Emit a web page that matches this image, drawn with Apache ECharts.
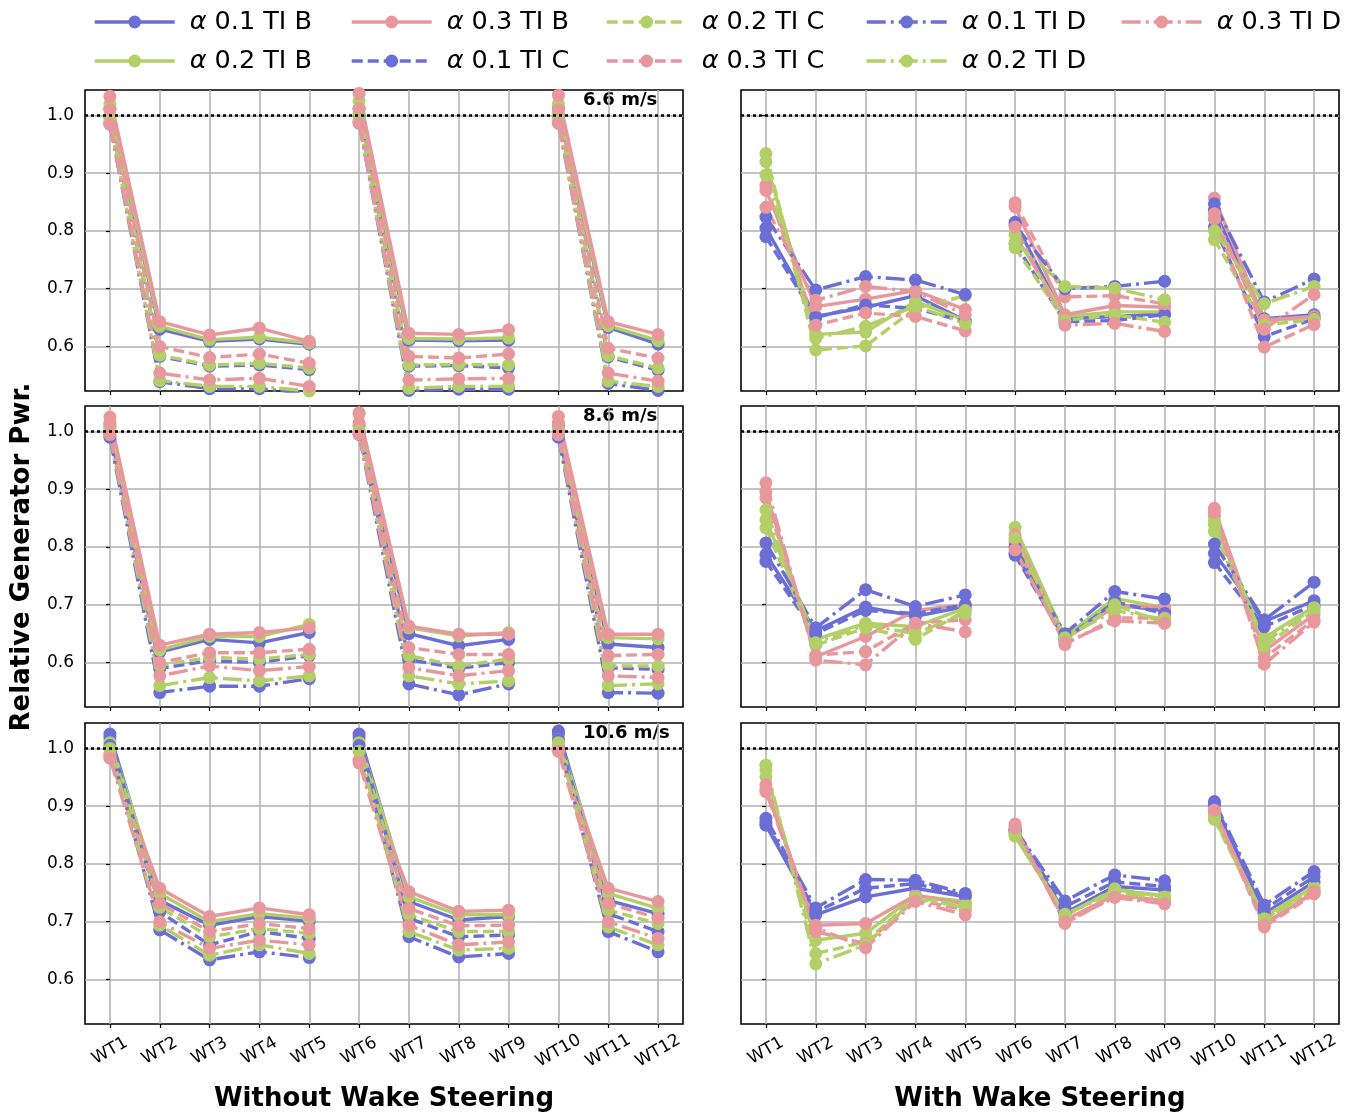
<!DOCTYPE html>
<html><head><meta charset="utf-8">
<script src="https://cdn.jsdelivr.net/npm/echarts@6/dist/echarts.min.js"></script>
<style>html,body{margin:0;padding:0;background:#fff}#c{width:1356px;height:1115px}</style>
</head><body><div id="c"></div>
<script>
// ---------- categories / labels ----------
const turbines = ['WT1','WT2','WT3','WT4','WT5','WT6','WT7','WT8','WT9','WT10','WT11','WT12'];
const breakAfter = [4, 8]; // lines are broken after WT5 and WT9
const seriesNames = ['α 0.1 TI B','α 0.2 TI B','α 0.3 TI B','α 0.1 TI C','α 0.2 TI C','α 0.3 TI C','α 0.1 TI D','α 0.2 TI D','α 0.3 TI D'];
const speedLabels = ['6.6 m/s','8.6 m/s','10.6 m/s'];
const columnTitles = ['Without Wake Steering','With Wake Steering'];
const yAxisTitle = 'Relative Generator Pwr.';
const yTickValues = [0.6, 0.7, 0.8, 0.9, 1.0];
const referenceLevel = 1.0;

// ---------- Without wake steering, 6.6 m/s ----------
const noWS66_a01_B = [1.012,0.630,0.609,0.613,0.604,1.012,0.611,0.610,0.611,1.012,0.633,0.604];
const noWS66_a02_B = [1.020,0.635,0.612,0.616,0.606,1.025,0.614,0.613,0.615,1.020,0.636,0.610];
const noWS66_a03_B = [1.033,0.643,0.620,0.632,0.609,1.038,0.623,0.621,0.629,1.035,0.643,0.621];
const noWS66_a01_C = [0.998,0.583,0.566,0.568,0.560,1.000,0.566,0.567,0.563,1.000,0.582,0.559];
const noWS66_a02_C = [1.000,0.585,0.568,0.571,0.563,1.005,0.568,0.569,0.568,1.002,0.584,0.563];
const noWS66_a03_C = [1.010,0.600,0.581,0.587,0.571,1.012,0.583,0.580,0.587,1.010,0.597,0.580];
const noWS66_a01_D = [0.985,0.539,0.527,0.527,0.519,0.988,0.524,0.526,0.526,0.988,0.536,0.524];
const noWS66_a02_D = [0.990,0.541,0.531,0.531,0.523,0.992,0.528,0.531,0.531,0.990,0.540,0.531];
const noWS66_a03_D = [0.985,0.554,0.542,0.545,0.531,0.986,0.542,0.544,0.545,0.986,0.554,0.540];

// ---------- With wake steering, 6.6 m/s ----------
const WS66_a01_B = [0.805,0.652,0.668,0.688,0.645,0.815,0.648,0.652,0.657,0.836,0.648,0.655];
const WS66_a02_B = [0.920,0.621,0.625,0.678,0.645,0.793,0.652,0.660,0.660,0.820,0.645,0.650];
const WS66_a03_B = [0.870,0.669,0.682,0.697,0.664,0.842,0.655,0.671,0.668,0.857,0.646,0.652];
const WS66_a01_C = [0.790,0.650,0.672,0.666,0.643,0.778,0.643,0.645,0.655,0.807,0.617,0.648];
const WS66_a02_C = [0.934,0.594,0.601,0.666,0.688,0.771,0.645,0.655,0.642,0.785,0.637,0.647];
const WS66_a03_C = [0.879,0.637,0.658,0.652,0.627,0.849,0.686,0.688,0.674,0.821,0.599,0.638];
const WS66_a01_D = [0.824,0.698,0.721,0.715,0.690,0.810,0.700,0.704,0.713,0.847,0.677,0.717];
const WS66_a02_D = [0.897,0.614,0.635,0.670,0.640,0.780,0.704,0.701,0.681,0.800,0.674,0.704];
const WS66_a03_D = [0.841,0.680,0.704,0.695,0.655,0.807,0.637,0.640,0.626,0.830,0.630,0.690];

// ---------- Without wake steering, 8.6 m/s ----------
const noWS86_a01_B = [1.010,0.618,0.640,0.634,0.652,1.010,0.650,0.629,0.640,1.010,0.632,0.626];
const noWS86_a02_B = [1.015,0.622,0.645,0.645,0.666,1.030,0.660,0.646,0.652,1.015,0.643,0.641];
const noWS86_a03_B = [1.025,0.630,0.649,0.652,0.660,1.032,0.663,0.649,0.649,1.026,0.649,0.649];
const noWS86_a01_C = [1.000,0.590,0.603,0.600,0.612,1.000,0.605,0.590,0.600,1.000,0.591,0.588];
const noWS86_a02_C = [1.005,0.595,0.609,0.606,0.614,1.010,0.612,0.594,0.606,1.005,0.594,0.594];
const noWS86_a03_C = [1.015,0.600,0.617,0.617,0.623,1.015,0.626,0.614,0.614,1.015,0.612,0.614];
const noWS86_a01_D = [0.990,0.548,0.559,0.559,0.572,0.995,0.563,0.544,0.563,0.990,0.548,0.547];
const noWS86_a02_D = [0.995,0.560,0.574,0.568,0.577,1.000,0.577,0.563,0.568,0.995,0.560,0.563];
const noWS86_a03_D = [0.995,0.577,0.594,0.586,0.593,0.995,0.591,0.577,0.586,0.995,0.577,0.574];

// ---------- With wake steering, 8.6 m/s ----------
const WS86_a01_B = [0.787,0.655,0.696,0.680,0.697,0.790,0.645,0.700,0.690,0.789,0.671,0.707];
const WS86_a02_B = [0.847,0.640,0.668,0.662,0.694,0.834,0.645,0.711,0.695,0.838,0.643,0.697];
const WS86_a03_B = [0.896,0.610,0.645,0.690,0.700,0.821,0.640,0.697,0.697,0.867,0.620,0.683];
const WS86_a01_C = [0.775,0.650,0.690,0.685,0.700,0.786,0.640,0.705,0.685,0.773,0.662,0.700];
const WS86_a02_C = [0.833,0.630,0.660,0.640,0.690,0.810,0.640,0.700,0.668,0.827,0.628,0.690];
const WS86_a03_C = [0.885,0.613,0.619,0.668,0.674,0.806,0.631,0.677,0.677,0.853,0.608,0.674];
const WS86_a01_D = [0.807,0.660,0.726,0.697,0.717,0.800,0.650,0.723,0.710,0.805,0.674,0.739];
const WS86_a02_D = [0.864,0.634,0.665,0.650,0.685,0.815,0.643,0.690,0.675,0.845,0.635,0.695];
const WS86_a03_D = [0.911,0.604,0.596,0.668,0.653,0.795,0.634,0.672,0.668,0.860,0.597,0.670];

// ---------- Without wake steering, 10.6 m/s ----------
const noWS106_a01_B = [1.025,0.737,0.694,0.709,0.701,1.025,0.735,0.703,0.709,1.030,0.737,0.714];
const noWS106_a02_B = [1.015,0.749,0.700,0.714,0.706,1.015,0.743,0.712,0.712,1.020,0.749,0.723];
const noWS106_a03_B = [0.990,0.758,0.709,0.724,0.712,0.980,0.752,0.718,0.720,1.005,0.758,0.735];
const noWS106_a01_C = [1.020,0.717,0.660,0.683,0.671,1.020,0.706,0.674,0.677,1.025,0.714,0.683];
const noWS106_a02_C = [1.010,0.725,0.674,0.688,0.680,1.010,0.712,0.683,0.683,1.015,0.720,0.697];
const noWS106_a03_C = [0.985,0.732,0.683,0.697,0.688,0.978,0.723,0.693,0.694,1.000,0.732,0.706];
const noWS106_a01_D = [1.005,0.686,0.634,0.648,0.638,1.005,0.674,0.639,0.645,1.015,0.683,0.648];
const noWS106_a02_D = [1.000,0.694,0.642,0.660,0.645,0.995,0.683,0.651,0.654,1.010,0.691,0.660];
const noWS106_a03_D = [0.983,0.700,0.654,0.668,0.660,0.975,0.694,0.660,0.665,0.995,0.700,0.671];

// ---------- With wake steering, 10.6 m/s ----------
const WS106_a01_B = [0.867,0.712,0.743,0.758,0.743,0.858,0.715,0.761,0.755,0.902,0.714,0.769];
const WS106_a02_B = [0.951,0.668,0.680,0.745,0.735,0.848,0.712,0.755,0.745,0.883,0.709,0.761];
const WS106_a03_B = [0.928,0.694,0.697,0.746,0.731,0.865,0.703,0.746,0.737,0.896,0.697,0.750];
const WS106_a01_C = [0.872,0.717,0.758,0.766,0.745,0.855,0.726,0.769,0.761,0.905,0.721,0.778];
const WS106_a02_C = [0.963,0.645,0.665,0.742,0.729,0.850,0.710,0.757,0.743,0.877,0.705,0.757];
const WS106_a03_C = [0.937,0.683,0.662,0.738,0.720,0.869,0.697,0.744,0.733,0.890,0.691,0.748];
const WS106_a01_D = [0.879,0.724,0.773,0.772,0.749,0.860,0.736,0.781,0.771,0.908,0.729,0.787];
const WS106_a02_D = [0.971,0.627,0.660,0.740,0.725,0.852,0.713,0.750,0.740,0.880,0.703,0.754];
const WS106_a03_D = [0.925,0.690,0.655,0.735,0.712,0.862,0.700,0.742,0.731,0.893,0.694,0.752];

// ---------- panel table (row, column) ----------
const panels = [
  {row:0, col:0, label:speedLabels[0], values:[noWS66_a01_B,noWS66_a02_B,noWS66_a03_B,noWS66_a01_C,noWS66_a02_C,noWS66_a03_C,noWS66_a01_D,noWS66_a02_D,noWS66_a03_D]},
  {row:0, col:1, label:null, values:[WS66_a01_B,WS66_a02_B,WS66_a03_B,WS66_a01_C,WS66_a02_C,WS66_a03_C,WS66_a01_D,WS66_a02_D,WS66_a03_D]},
  {row:1, col:0, label:speedLabels[1], values:[noWS86_a01_B,noWS86_a02_B,noWS86_a03_B,noWS86_a01_C,noWS86_a02_C,noWS86_a03_C,noWS86_a01_D,noWS86_a02_D,noWS86_a03_D]},
  {row:1, col:1, label:null, values:[WS86_a01_B,WS86_a02_B,WS86_a03_B,WS86_a01_C,WS86_a02_C,WS86_a03_C,WS86_a01_D,WS86_a02_D,WS86_a03_D]},
  {row:2, col:0, label:speedLabels[2], values:[noWS106_a01_B,noWS106_a02_B,noWS106_a03_B,noWS106_a01_C,noWS106_a02_C,noWS106_a03_C,noWS106_a01_D,noWS106_a02_D,noWS106_a03_D]},
  {row:2, col:1, label:null, values:[WS106_a01_B,WS106_a02_B,WS106_a03_B,WS106_a01_C,WS106_a02_C,WS106_a03_C,WS106_a01_D,WS106_a02_D,WS106_a03_D]}
];

// ---------- styles ----------
const FONT = 'DejaVu Sans';
const alphaColors = ['#6b6fd5', '#b3cf68', '#e8989c'];        // alpha 0.1, 0.2, 0.3
const tiDash = ['solid', [11, 5], [19, 5, 3, 5]];              // TI B, C, D
const colLeft = [85, 741];
const panelWidth = 598;
const rowTop = [90, 406, 723];
const panelHeight = 301;
const yMin = 0.523, yMax = 1.044;

const grids = [], xAxes = [], yAxes = [], series = [], graphics = [];

panels.forEach((p, k) => {
  grids.push({left: colLeft[p.col], top: rowTop[p.row], width: panelWidth, height: panelHeight,
    show: true, borderColor: '#000', borderWidth: 1.6, containLabel: false});
  xAxes.push({
    type: 'value', gridIndex: k, min: -0.5, max: turbines.length - 0.5,
    splitNumber: 12, minInterval: 1, maxInterval: 1,
    axisLine: {show: false},
    axisTick: {show: true, length: 4, customValues: turbines.map((_, i) => i), lineStyle: {color: '#000', width: 1.2}},
    axisLabel: {show: p.row === 2, customValues: turbines.map((_, i) => i),
      formatter: v => (Number.isInteger(v) && v >= 0 && v < turbines.length) ? turbines[v] : '',
      rotate: 30, align: 'center', verticalAlign: 'middle', margin: 27,
      fontSize: 17, fontFamily: FONT, color: '#000'},
    splitLine: {show: true, lineStyle: {color: '#b0b0b0', width: 1.5}}
  });
  yAxes.push({
    type: 'value', gridIndex: k, min: yMin, max: yMax,
    splitNumber: 5, minInterval: 0.1, maxInterval: 0.1,
    axisLine: {show: false},
    axisTick: {show: true, length: 4, customValues: yTickValues, lineStyle: {color: '#000', width: 1.2}},
    axisLabel: {show: p.col === 0, customValues: yTickValues, formatter: v => v.toFixed(1),
      fontSize: 17, fontFamily: FONT, color: '#000', margin: 11},
    splitLine: {show: true, lineStyle: {color: '#b0b0b0', width: 1.5}}
  });
  p.values.forEach((arr, s) => {
    const data = [];
    arr.forEach((v, i) => {
      data.push([i, v]);
      if (breakAfter.includes(i)) data.push([i + 0.5, '-']);
    });
    const color = alphaColors[s % 3];
    series.push({
      type: 'line', name: seriesNames[s], xAxisIndex: k, yAxisIndex: k, data,
      symbol: 'circle', symbolSize: 13, connectNulls: false, clip: true,
      lineStyle: {color, width: 3.4, type: tiDash[Math.floor(s / 3)]},
      itemStyle: {color}, emphasis: {disabled: true}, animation: false
    });
  });
  series.push({
    type: 'line', xAxisIndex: k, yAxisIndex: k, data: [], animation: false,
    markLine: {silent: true, symbol: 'none', animation: false, label: {show: false},
      lineStyle: {color: '#000', type: [3, 3], width: 2.5}, data: [{yAxis: referenceLevel}]}
  });
  if (p.label) {
    graphics.push({type: 'text', left: colLeft[p.col] + 498, top: rowTop[p.row] + 1,
      style: {text: p.label, font: 'bold 18px "DejaVu Sans"', fill: '#000'}});
  }
});

// column titles and y title
columnTitles.forEach((t, c) => {
  graphics.push({type: 'text', x: colLeft[c] + panelWidth / 2, y: 1099,
    style: {text: t, font: 'bold 26px "DejaVu Sans"', fill: '#000', textAlign: 'center', textVerticalAlign: 'middle'}});
});
graphics.push({type: 'text', x: 22, y: 557, rotation: Math.PI / 2,
  style: {text: yAxisTitle, font: 'bold 26px "DejaVu Sans"', fill: '#000', textAlign: 'center', textVerticalAlign: 'middle'}});

// legend: 5 columns, filled column-wise like the original
const legendColumns = [[0,1],[2,3],[4,5],[6,7],[8]];
const legendLeft = [93, 350, 605, 865, 1120];
const legends = legendColumns.map((idx, c) => ({
  orient: 'vertical', left: legendLeft[c], top: 9, padding: 0, itemWidth: 80, itemHeight: 16, itemGap: 13,
  selectedMode: false, data: idx.map(i => seriesNames[i]),
  lineStyle: {width: 3.4},
  formatter: n => '{a|α}' + n.slice(1),
  textStyle: {fontSize: 25.5, fontFamily: FONT, color: '#000', padding: [0, 0, 0, 10],
    rich: {a: {fontSize: 25.5, fontFamily: FONT, fontStyle: 'italic', color: '#000'}}}
}));

const chart = echarts.init(document.getElementById('c'), null, {renderer: 'canvas'});
chart.setOption({
  animation: false,
  backgroundColor: '#fff',
  textStyle: {fontFamily: FONT},
  legend: legends,
  grid: grids, xAxis: xAxes, yAxis: yAxes, series, graphic: graphics
});
</script></body></html>
